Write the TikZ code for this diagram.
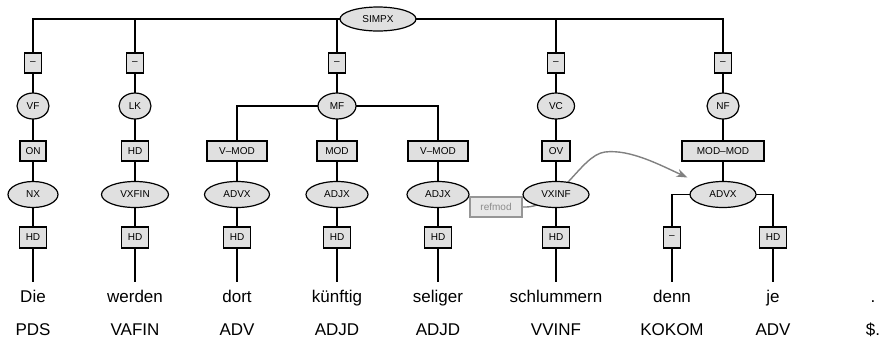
\documentclass[tikz,border=0pt]{standalone}
\usepackage{fontspec}
\setmainfont{Liberation Sans}
\usetikzlibrary{shapes.geometric,arrows.meta,backgrounds}
\definecolor{nodefill}{RGB}{224,224,224}
\definecolor{refborder}{RGB}{150,150,150}
\definecolor{reffill}{RGB}{232,232,232}
\definecolor{reftext}{RGB}{140,140,140}
\definecolor{arcgray}{RGB}{128,128,128}
\begin{document}
\begin{tikzpicture}[x=1pt,y=-1pt,
  lab/.style={font=\fontsize{10}{12}\selectfont},
  edgebox/.style={draw, fill=nodefill, line width=1.2pt, rectangle, minimum height=20pt, inner sep=0pt, lab},
  cat/.style={draw, fill=nodefill, line width=1.2pt, ellipse, inner sep=0pt, minimum height=26pt, lab},
  word/.style={anchor=base, font=\fontsize{17}{20}\selectfont, inner sep=0pt},
  tree/.style={line width=1.3pt},
  refbox/.style={draw=refborder, fill=reffill, text=reftext, line width=1.1pt, rectangle, minimum height=20pt, minimum width=52pt, inner sep=0pt, lab},
  refarc/.style={draw=arcgray, line width=1.4pt, -{Stealth[length=11pt,width=8pt]}}
]
\useasboundingbox (0,0) rectangle (882,341);

% root
\node[cat, minimum width=76pt, minimum height=24pt] (simpx) at (378,19) {SIMPX};

% top edge boxes
\node[edgebox, minimum width=17pt] (t1) at (33,63) {–};
\node[edgebox, minimum width=17pt] (t2) at (135,63) {–};
\node[edgebox, minimum width=17pt] (t3) at (337,63) {–};
\node[edgebox, minimum width=17pt] (t4) at (556,63) {–};
\node[edgebox, minimum width=17pt] (t5) at (723,63) {–};

% topological fields
\node[cat, minimum width=32pt] (vf) at (33,106) {VF};
\node[cat, minimum width=32pt] (lk) at (135,106) {LK};
\node[cat, minimum width=38pt] (mf) at (337,106) {MF};
\node[cat, minimum width=37pt] (vc) at (556,106) {VC};
\node[cat, minimum width=32pt] (nf) at (723,106) {NF};

% second edge boxes
\node[edgebox, minimum width=26pt] (on) at (33,151) {ON};
\node[edgebox, minimum width=27pt] (hdA) at (135,151) {HD};
\node[edgebox, minimum width=60pt] (vmod1) at (237,151) {V–MOD};
\node[edgebox, minimum width=40pt] (mod) at (337,151) {MOD};
\node[edgebox, minimum width=60pt] (vmod2) at (438,151) {V–MOD};
\node[edgebox, minimum width=28pt] (ov) at (556,151) {OV};
\node[edgebox, minimum width=82pt] (modmod) at (723,151) {MOD–MOD};

% phrases
\node[cat, minimum width=50pt] (nx) at (33,194.5) {NX};
\node[cat, minimum width=67pt] (vxfin) at (135,194.5) {VXFIN};
\node[cat, minimum width=65pt] (advx1) at (237,194.5) {ADVX};
\node[cat, minimum width=62pt] (adjx1) at (337,194.5) {ADJX};
\node[cat, minimum width=62pt] (adjx2) at (438,194.5) {ADJX};
\node[cat, minimum width=66pt] (vxinf) at (556,194.5) {VXINF};
\node[cat, minimum width=66pt] (advx2) at (723,194.5) {ADVX};

% refmod box
\node[refbox] (refmod) at (496,207) {refmod};

% lowest edge boxes
\node[edgebox, minimum width=27pt, minimum height=21pt] (h1) at (33,237.5) {HD};
\node[edgebox, minimum width=27pt, minimum height=21pt] (h2) at (135,237.5) {HD};
\node[edgebox, minimum width=27pt, minimum height=21pt] (h3) at (237,237.5) {HD};
\node[edgebox, minimum width=27pt, minimum height=21pt] (h4) at (337,237.5) {HD};
\node[edgebox, minimum width=27pt, minimum height=21pt] (h5) at (438,237.5) {HD};
\node[edgebox, minimum width=27pt, minimum height=21pt] (h6) at (556,237.5) {HD};
\node[edgebox, minimum width=17pt, minimum height=21pt] (h7) at (672,237.5) {–};
\node[edgebox, minimum width=27pt, minimum height=21pt] (h8) at (773,237.5) {HD};

% line ends
\coordinate (e1) at (33,282);
\coordinate (e2) at (135,282);
\coordinate (e3) at (237,282);
\coordinate (e4) at (337,282);
\coordinate (e5) at (438,282);
\coordinate (e6) at (556,282);
\coordinate (e7) at (672,282);
\coordinate (e8) at (773,282);

% words
\node[word] (w1) at (33,302) {Die};
\node[word] (w2) at (135,302) {werden};
\node[word] (w3) at (237,302) {dort};
\node[word] (w4) at (337,302) {künftig};
\node[word] (w5) at (438,302) {seliger};
\node[word] (w6) at (556,302) {schlummern};
\node[word] (w7) at (672,302) {denn};
\node[word] (w8) at (773,302) {je};
\node[word] (w9) at (873,302) {.};

% tags
\node[word] (p1) at (33,335) {PDS};
\node[word] (p2) at (135,335) {VAFIN};
\node[word] (p3) at (237,335) {ADV};
\node[word] (p4) at (337,335) {ADJD};
\node[word] (p5) at (438,335) {ADJD};
\node[word] (p6) at (556,335) {VVINF};
\node[word] (p7) at (672,335) {KOKOM};
\node[word] (p8) at (773,335) {ADV};
\node[word] (p9) at (873,335) {\$.};

\begin{scope}[on background layer]
  \draw[tree] (simpx.center) -| (t1.center) -- (vf.center) -- (on.center) -- (nx.center) -- (h1.center) -- (e1);
  \draw[tree] (simpx.center) -| (t2.center) -- (lk.center) -- (hdA.center) -- (vxfin.center) -- (h2.center) -- (e2);
  \draw[tree] (simpx.center) -| (t3.center) -- (mf.center);
  \draw[tree] (simpx.center) -| (t4.center) -- (vc.center) -- (ov.center) -- (vxinf.center) -- (h6.center) -- (e6);
  \draw[tree] (simpx.center) -| (t5.center) -- (nf.center) -- (modmod.center) -- (advx2.center);
  \draw[tree] (mf.center) -| (vmod1.center) -- (advx1.center) -- (h3.center) -- (e3);
  \draw[tree] (mf.center) -- (mod.center) -- (adjx1.center) -- (h4.center) -- (e4);
  \draw[tree] (mf.center) -| (vmod2.center) -- (adjx2.center) -- (h5.center) -- (e5);
  \draw[tree] (advx2.center) -| (h7.center) -- (e7);
  \draw[tree] (advx2.center) -| (h8.center) -- (e8);
  \draw[refarc] (refmod.east) .. controls +(38,2) and (580,155) .. (605,152)
     .. controls (630,149) and (660,165) .. ([xshift=-2pt,yshift=17pt]advx2.west);
\end{scope}
\end{tikzpicture}
\end{document}
